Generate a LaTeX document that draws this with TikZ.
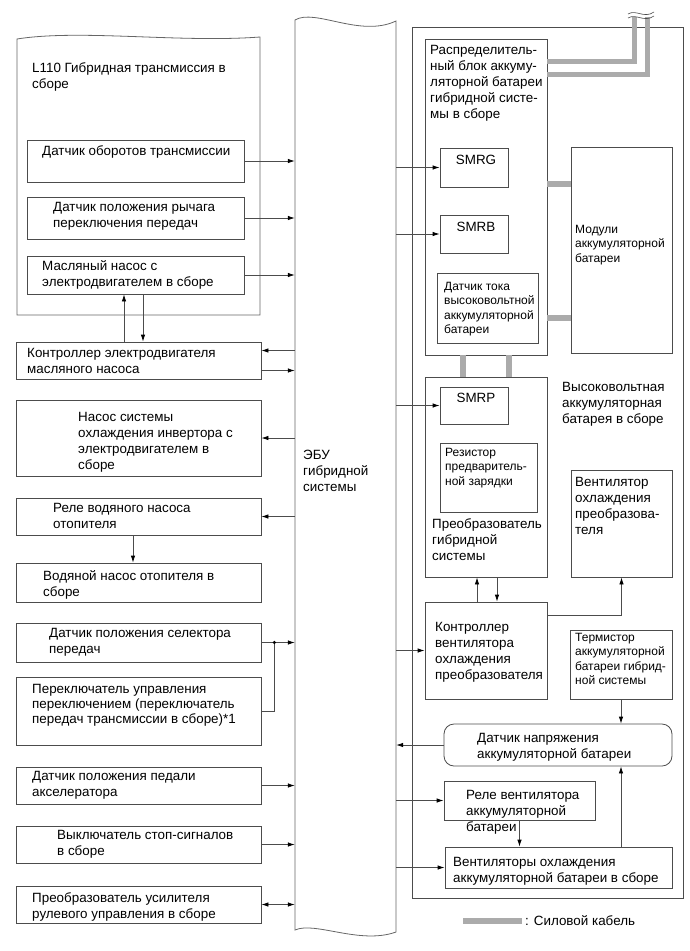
\documentclass[tikz,border=0pt]{standalone}
\usepackage{fontspec}
\setmainfont{Liberation Sans}
\usepackage{tikz}
\usetikzlibrary{arrows.meta,fit,calc}
\tikzset{box/.style={draw=black!70, rectangle, inner sep=0pt, line width=0.8pt},
rbox/.style={box, rounded corners=10pt},
txt/.style={anchor=north west, inner sep=0pt, align=left, font=\fontsize{13.4}{16}\selectfont},
stxt/.style={anchor=north west, inner sep=0pt, align=left, font=\fontsize{12}{14.4}\selectfont},
arrow/.style={draw=black!70, line width=0.8pt, -{Latex[length=7pt,width=4.5pt,color=black]}},
dblarrow/.style={draw=black!70, line width=0.8pt, {Latex[length=7pt,width=4.5pt,color=black]}-{Latex[length=7pt,width=4.5pt,color=black]}},
line/.style={draw=black!70, line width=0.8pt},
cable/.style={draw=black!33, line width=5.5pt},
outline/.style={draw=black!60, line width=0.8pt}}

\begin{document}
\begin{tikzpicture}[x=1pt,y=-1pt]
    \useasboundingbox (0,0) rectangle (690,951);

    % L110 transmission assembly
    \draw[outline] (17,39) .. controls (80,29) and (180,43) .. (260,37) -- (260,315) -- (17,315) -- cycle;
    \node[txt] (trans-t) at (32,62) {L110 Гибридная трансмиссия в\\сборе};
    \node[box, fit={(27,140) (244,182)}] (rpm) {};
    \node[txt] (rpm-t) at (42,145) {Датчик оборотов трансмиссии};
    \node[box, fit={(27,197) (244,239)}] (lever) {};
    \node[txt] (lever-t) at (53,202) {Датчик положения рычага\\переключения передач};
    \node[box, fit={(27,256) (244,294)}] (pump) {};
    \node[txt] (pump-t) at (42,260) {Масляный насос с\\электродвигателем в сборе};

    % left column
    \node[box, fit={(16,342) (261,379)}] (ctrl) {};
    \node[txt] (ctrl-t) at (27,348) {Контроллер электродвигателя\\масляного насоса};
    \node[box, fit={(16,400) (261,476)}] (invpump) {};
    \node[txt] (invpump-t) at (78,412) {Насос системы\\охлаждения инвертора с\\электродвигателем в\\сборе};
    \node[box, fit={(16,498) (261,535)}] (relay) {};
    \node[txt] (relay-t) at (53,503) {Реле водяного насоса\\отопителя};
    \node[box, fit={(16,563) (261,602)}] (wpump) {};
    \node[txt] (wpump-t) at (43,570) {Водяной насос отопителя в\\сборе};
    \node[box, fit={(16,623) (261,662)}] (sel) {};
    \node[txt] (sel-t) at (49,628) {Датчик положения селектора\\передач};
    \node[box, fit={(16,677) (261,745)}] (shift) {};
    \node[txt, font=\fontsize{13.4}{15.2}\selectfont] (shift-t) at (32,684) {Переключатель управления\\переключением (переключатель\\передач трансмиссии в сборе)*1};
    \node[box, fit={(16,767) (261,804)}] (accel) {};
    \node[txt] (accel-t) at (32,771) {Датчик положения педали\\акселератора};
    \node[box, fit={(16,826) (261,863)}] (stop) {};
    \node[txt] (stop-t) at (57,830) {Выключатель стоп-сигналов\\в сборе};
    \node[box, fit={(16,886) (261,923)}] (eps) {};
    \node[txt] (eps-t) at (32,892) {Преобразователь усилителя\\рулевого управления в сборе};

    % ECU
    \node[inner sep=0pt, fit={(295,20) (396,932)}] (ecu) {};
    \draw[outline] (295,20) .. controls (315,8) and (360,38) .. (396,21) -- (396,932)
        .. controls (360,945) and (315,921) .. (295,930) -- cycle;
    \node[txt] (ecu-t) at (303,450) {ЭБУ\\гибридной\\системы};

    % HV battery assembly
    \node[box, fit={(412,27) (683,898)}] (batt) {};
    \node[txt] (batt-t) at (562,382) {Высоковольтная\\аккумуляторная\\батарея в сборе};
    \node[box, fit={(425,39) (547,355)}] (dist) {};
    \node[txt] (dist-t) at (430,45) {Распределитель-\\ный блок аккуму-\\ляторной батареи\\гибридной систе-\\мы в сборе};
    \node[box, fit={(440,148) (508,187)}] (smrg) {};
    \node[txt, anchor=north] (smrg-t) at (476,155) {SMRG};
    \node[box, fit={(440,215) (508,253)}] (smrb) {};
    \node[txt, anchor=north] (smrb-t) at (476,222) {SMRB};
    \node[box, fit={(437,273) (538,343)}] (cursens) {};
    \node[stxt] (cursens-t) at (444,282) {Датчик тока\\высоковольтной\\аккумуляторной\\батареи};
    \node[box, fit={(571,147) (672,353)}] (mod) {};
    \node[stxt] (mod-t) at (575,225) {Модули\\аккумуляторной\\батареи};
    \node[box, fit={(425,377) (547,577)}] (conv) {};
    \node[txt] (conv-t) at (432,518) {Преобразователь\\гибридной\\системы};
    \node[box, fit={(440,387) (508,424)}] (smrp) {};
    \node[txt, anchor=north] (smrp-t) at (476,393) {SMRP};
    \node[box, fit={(440,443) (537,512)}] (resist) {};
    \node[stxt] (resist-t) at (445,448) {Резистор\\предваритель-\\ной зарядки};
    \node[box, fit={(571,470) (672,577)}] (invfan) {};
    \node[txt] (invfan-t) at (575,477) {Вентилятор\\охлаждения\\преобразова-\\теля};
    \node[box, fit={(425,602) (547,699)}] (fctl) {};
    \node[txt] (fctl-t) at (435,622) {Контроллер\\вентилятора\\охлаждения\\преобразователя};
    \node[box, fit={(570,630) (672,699)}] (therm) {};
    \node[stxt] (therm-t) at (575,633) {Термистор\\аккумуляторной\\батареи гибрид-\\ной системы};
    \node[rbox, fit={(444,724) (672,766)}] (volt) {};
    \node[txt] (volt-t) at (477,733) {Датчик напряжения\\аккумуляторной батареи};
    \node[box, fit={(444,781) (595,820)}] (frelay) {};
    \node[txt] (frelay-t) at (466,790) {Реле вентилятора\\аккумуляторной\\батареи};
    \node[box, fit={(445,847) (672,888)}] (fans) {};
    \node[txt] (fans-t) at (453,857) {Вентиляторы охлаждения\\аккумуляторной батареи в сборе};

    % signals, left side
    \draw[arrow] (rpm.east) -- (rpm.east -| ecu.west);
    \draw[arrow] (lever.east) -- (lever.east -| ecu.west);
    \draw[arrow] (pump.east) -- (pump.east -| ecu.west);
    \coordinate (p1) at ([xshift=-11.5pt]pump.south);
    \coordinate (p2) at ([xshift=7.5pt]pump.south);
    \draw[arrow] (p1 |- ctrl.north) -- (p1);
    \draw[arrow] (p2) -- (p2 |- ctrl.north);
    \coordinate (c1) at ([yshift=10pt]ctrl.east);
    \coordinate (c2) at ([yshift=-10pt]ctrl.east);
    \draw[arrow] (c1 -| ecu.west) -- (c1);
    \draw[arrow] (c2) -- (c2 -| ecu.west);
    \draw[arrow] (invpump.east -| ecu.west) -- (invpump.east);
    \draw[arrow] (relay.east -| ecu.west) -- (relay.east);
    \coordinate (r1) at ([xshift=-5.5pt]relay.south);
    \draw[arrow] (r1) -- (r1 |- wpump.north);
    \coordinate (jn) at ([xshift=13pt]sel.east);
    \draw[arrow] (sel.east) -- (sel.east -| ecu.west);
    \draw[line] (shift.east) -| (jn);
    \fill[black] (jn) circle (1.8pt);
    \draw[arrow] (accel.east) -- (accel.east -| ecu.west);
    \draw[arrow] (stop.east) -- (stop.east -| ecu.west);
    \draw[dblarrow] (eps.east) -- (eps.east -| ecu.west);

    % signals, right side
    \draw[arrow] (smrg.west -| ecu.east) -- (smrg.west);
    \draw[arrow] (smrb.west -| ecu.east) -- (smrb.west);
    \draw[arrow] (smrp.west -| ecu.east) -- (smrp.west);
    \draw[arrow] (fctl.west -| ecu.east) -- (fctl.west);
    \draw[arrow] (volt.west) -- (volt.west -| ecu.east);
    \draw[arrow] (frelay.west -| ecu.east) -- (frelay.west);
    \draw[arrow] (fans.west -| ecu.east) -- (fans.west);
    \coordinate (f1) at ([xshift=-9pt]fctl.north);
    \coordinate (f2) at ([xshift=11pt]fctl.north);
    \draw[arrow] (f1) -- (f1 |- conv.south);
    \draw[arrow] (f2 |- conv.south) -- (f2);
    \coordinate (f3) at ([yshift=35.5pt]fctl.east);
    \draw[arrow] (f3) -| (invfan.south);
    \draw[arrow] (therm.south) -- (therm.south |- volt.north);
    \draw[arrow] (frelay.south) -- (frelay.south |- fans.north);
    \draw[arrow] (fans.north -| therm.south) -- (therm.south |- volt.south);

    % power cables
    \coordinate (cabA) at (634.5,17);
    \coordinate (cabB) at (647.5,17);
    \draw[cable] ([yshift=-23pt]dist.north east) -| (cabA);
    \draw[cable] ([yshift=-36pt]dist.north east) -| (cabB);
    \draw[line, line width=0.6pt] (628,14) .. controls (636,9) and (644,19) .. (654,12);
    \draw[line, line width=0.6pt] (628,18) .. controls (636,13) and (644,23) .. (654,16);
    \coordinate (d1) at ([yshift=13pt]dist.east);
    \coordinate (d2) at ([yshift=-121pt]dist.east);
    \draw[cable] (d1) -- (d1 -| mod.west);
    \draw[cable] (d2) -- (d2 -| mod.west);
    \coordinate (d3) at ([xshift=-23pt]dist.south);
    \coordinate (d4) at ([xshift=23pt]dist.south);
    \draw[cable] (d3) -- (d3 |- conv.north);
    \draw[cable] (d4) -- (d4 |- conv.north);

    % legend
    \coordinate (lg) at (463,921);
    \node[txt, anchor=west] (lg-t) at (525,921) {: Силовой кабель};
    \draw[cable] (lg) -- ([xshift=-3pt]lg-t.west);
\end{tikzpicture}
\end{document}
